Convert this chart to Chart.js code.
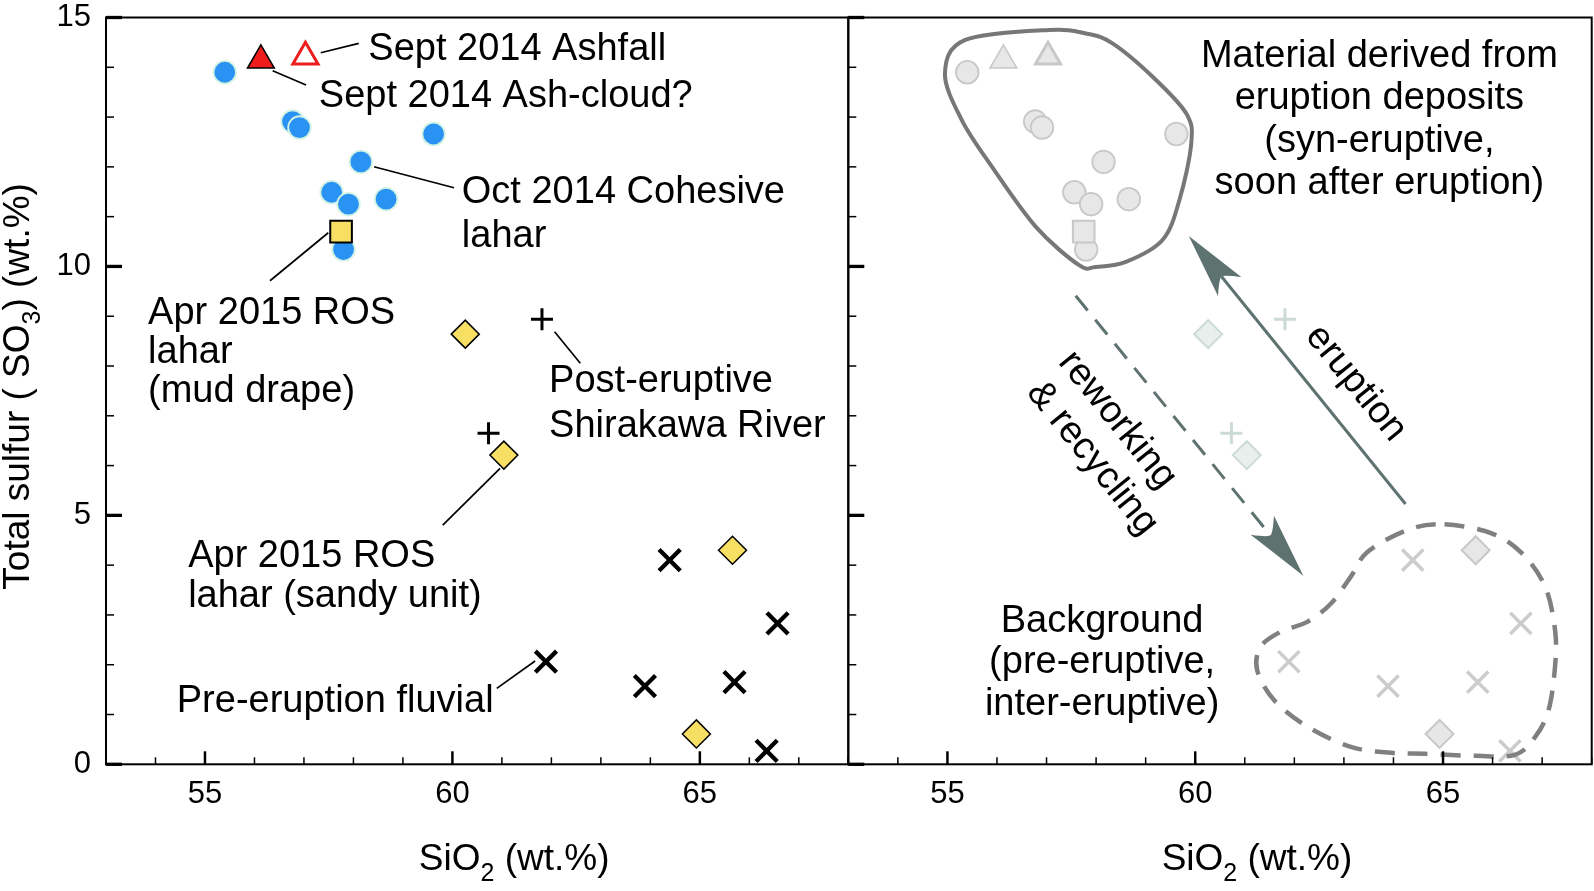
<!DOCTYPE html>
<html>
<head>
<meta charset="utf-8">
<script src="https://cdn.jsdelivr.net/npm/chart.js@4.4.1/dist/chart.umd.min.js"></script>
<style>
  html, body { margin: 0; padding: 0; background: #fff; }
  body { width: 1594px; height: 891px; position: relative; overflow: hidden; }
  canvas { position: absolute; top: 0; }
  #left { left: 0; }
  #right { left: 838px; }
</style>
</head>
<body>
<canvas id="left" width="850" height="891"></canvas>
<canvas id="right" width="756" height="891"></canvas>
<script>
// SiO2 (x) and total sulfur SO3 (y), wt.%
const cohesiveX = [55.40, 56.77, 56.91, 59.62, 58.15, 57.56, 57.90, 58.66, 57.80];
const cohesiveY = [13.90, 12.91, 12.79, 12.66, 12.10, 11.49, 11.25, 11.35, 10.34];
const ashCloudX = [56.13];
const ashCloudY = [14.14];
const ashfallX = [57.03];
const ashfallY = [14.21];
const mudDrapeX = [57.75];
const mudDrapeY = [10.70];
const sandyX = [60.26, 61.04, 65.66, 64.93];
const sandyY = [8.64, 6.21, 4.30, 0.61];
const postX = [61.81, 60.73];
const postY = [8.94, 6.65];
const fluvialX = [64.39, 66.57, 61.89, 63.89, 65.70, 66.35];
const fluvialY = [4.10, 2.83, 2.06, 1.57, 1.65, 0.27];

const xTickLabels = [55, 60, 65];
const yTickLabels = [0, 5, 10, 15];

// outlines drawn in the right panel (data units)
const eruptiveOutline = [
  [57.05, 14.75], [57.79, 14.68], [58.33, 14.48], [59.14, 13.81], [59.82, 13.07], [59.92, 12.47],
  [59.68, 11.33], [59.34, 10.53], [58.60, 10.09], [57.99, 9.99], [57.65, 10.03], [56.78, 10.80],
  [55.90, 12.00], [55.29, 12.94], [54.95, 13.88], [55.36, 14.55]
];
const backgroundOutline = [
  [65.03, 4.82], [65.98, 4.64], [66.59, 4.24], [67.06, 3.57], [67.26, 2.70], [67.26, 1.96],
  [67.13, 1.09], [66.86, 0.55], [66.45, 0.19], [65.64, 0.17], [64.63, 0.21], [63.95, 0.23],
  [63.14, 0.35], [62.26, 0.76], [61.59, 1.29], [61.25, 1.89], [61.32, 2.36], [61.72, 2.66],
  [62.26, 2.86], [62.74, 3.23], [63.14, 3.77], [63.48, 4.27], [64.29, 4.71]
];

const FONT = '"Liberation Sans", Arial, Helvetica, sans-serif';
Chart.defaults.font.family = FONT;
Chart.defaults.color = '#000';

const pts = (xs, ys) => xs.map((x, i) => ({x: x, y: ys[i]}));

function makeDatasets(gray) {
  const yellow = '#F7DF63', blue = '#2A92F2', red = '#EE1C1C';
  const lg = '#E7E7E7', lgLine = '#C8C8C8';
  const sage = '#E8EFED', sageLine = '#CCDAD6';
  const common = {showLine: false, clip: false};
  return [
    Object.assign({label: 'Apr 2015 ROS lahar (mud drape)', data: pts(mudDrapeX, mudDrapeY),
      pointStyle: 'rect', pointRadius: 15.3,
      pointBackgroundColor: gray ? lg : yellow, pointBorderColor: gray ? lgLine : '#000',
      pointBorderWidth: 2}, common),
    Object.assign({label: 'Apr 2015 ROS lahar (sandy unit)', data: pts(sandyX, sandyY),
      pointStyle: 'rectRot', pointRadius: 14,
      pointBackgroundColor: gray ? (c => c.dataIndex < 2 ? sage : lg) : yellow,
      pointBorderColor: gray ? (c => c.dataIndex < 2 ? sageLine : lgLine) : '#000',
      pointBorderWidth: gray ? 2 : 1.5}, common),
    Object.assign({label: 'Post-eruptive Shirakawa River', data: pts(postX, postY),
      pointStyle: 'cross', pointRadius: 11,
      pointBorderColor: gray ? sageLine : '#000', pointBorderWidth: 3}, common),
    Object.assign({label: 'Pre-eruption fluvial', data: pts(fluvialX, fluvialY),
      pointStyle: 'crossRot', pointRadius: 15,
      pointBorderColor: gray ? '#CCCCCC' : '#000', pointBorderWidth: gray ? 3.5 : 4.3}, common),
    Object.assign({label: 'Sept 2014 Ash-cloud?', data: pts(ashCloudX, ashCloudY),
      pointStyle: 'triangle', pointRadius: 15.5,
      pointBackgroundColor: gray ? lg : red, pointBorderColor: gray ? lgLine : '#000',
      pointBorderWidth: 1.5}, common),
    Object.assign({label: 'Sept 2014 Ashfall', data: pts(ashfallX, ashfallY),
      pointStyle: 'triangle', pointRadius: 14.5,
      pointBackgroundColor: gray ? lg : '#fff', pointBorderColor: gray ? lgLine : red,
      pointBorderWidth: 3}, common),
    Object.assign({label: 'Oct 2014 Cohesive lahar', data: pts(cohesiveX, cohesiveY),
      pointStyle: 'circle', pointRadius: 11.3,
      pointBackgroundColor: gray ? lg : blue, pointBorderColor: gray ? lgLine : '#D2F3E4',
      pointBorderWidth: 1.8}, common)
  ];
}

// notes: left-aligned unless align given; x/y in data units (baseline)
const leftNotes = [
  {text: 'Sept 2014 Ashfall', x: 58.30, y: 14.145},
  {text: 'Sept 2014 Ash-cloud?', x: 57.30, y: 13.195},
  {text: 'Oct 2014 Cohesive', x: 60.19, y: 11.27},
  {text: 'lahar', x: 60.19, y: 10.395},
  {text: 'Apr 2015 ROS', x: 53.85, y: 8.853},
  {text: 'lahar', x: 53.85, y: 8.060},
  {text: '(mud drape)', x: 53.85, y: 7.27},
  {text: 'Post-eruptive', x: 61.954, y: 7.478},
  {text: 'Shirakawa River', x: 61.954, y: 6.574},
  {text: 'Apr 2015 ROS', x: 54.66, y: 3.969},
  {text: 'lahar (sandy unit)', x: 54.66, y: 3.159},
  {text: 'Pre-eruption fluvial', x: 54.43, y: 1.056}
];
const leftLeaders = [
  [57.339, 14.292, 58.107, 14.481],
  [56.368, 13.931, 57.042, 13.643],
  [58.416, 12.002, 60.033, 11.581],
  [56.314, 9.713, 57.492, 10.677],
  [62.065, 8.688, 62.584, 8.054],
  [60.963, 5.945, 59.805, 4.806],
  [61.671, 2.075, 60.897, 1.526]
];
const rightNotes = [
  {text: 'Material derived from', x: 63.716, y: 14.011, align: 'center'},
  {text: 'eruption deposits', x: 63.716, y: 13.161, align: 'center'},
  {text: '(syn-eruptive,', x: 63.716, y: 12.308, align: 'center'},
  {text: 'soon after eruption)', x: 63.716, y: 11.454, align: 'center'},
  {text: 'Background', x: 58.121, y: 2.663, align: 'center'},
  {text: '(pre-eruptive,', x: 58.121, y: 1.828, align: 'center'},
  {text: 'inter-eruptive)', x: 58.121, y: 0.990, align: 'center'},
  {text: 'eruption', x: 63.243, y: 7.652, align: 'center', rot: 51},
  {text: 'reworking', x: 58.431, y: 6.915, align: 'center', rot: 51},
  {text: '& recycling', x: 57.924, y: 6.146, align: 'center', rot: 51}
];
const rightArrows = [
  {from: [64.243, 5.229], to: [59.870, 10.611], dashed: false},
  {from: [57.588, 9.412], to: [62.181, 3.788], dashed: true}
];

function closedSpline(ctx, p) {
  const n = p.length;
  ctx.moveTo(p[0][0], p[0][1]);
  for (let i = 0; i < n; i++) {
    const p0 = p[(i - 1 + n) % n], p1 = p[i], p2 = p[(i + 1) % n], p3 = p[(i + 2) % n];
    ctx.bezierCurveTo(p1[0] + (p2[0] - p0[0]) / 6, p1[1] + (p2[1] - p0[1]) / 6,
                      p2[0] - (p3[0] - p1[0]) / 6, p2[1] - (p3[1] - p1[1]) / 6, p2[0], p2[1]);
  }
  ctx.closePath();
}

function drawArrow(ctx, x0, y0, x1, y1, dashed) {
  const len = Math.hypot(x1 - x0, y1 - y0);
  const ux = (x1 - x0) / len, uy = (y1 - y0) / len;
  const nx = -uy, ny = ux;
  const headLen = 65, notch = 52, half = 15;
  ctx.save();
  ctx.strokeStyle = '#5E7270';
  ctx.fillStyle = '#5E7270';
  ctx.lineWidth = 3;
  ctx.setLineDash(dashed ? [19, 12] : []);
  ctx.beginPath();
  ctx.moveTo(x0, y0);
  ctx.lineTo(x1 - ux * notch, y1 - uy * notch);
  ctx.stroke();
  ctx.setLineDash([]);
  const bx = x1 - ux * headLen, by = y1 - uy * headLen;
  const mx = x1 - ux * notch, my = y1 - uy * notch;
  ctx.beginPath();
  ctx.moveTo(x1, y1);
  ctx.lineTo(bx + nx * half, by + ny * half);
  ctx.quadraticCurveTo(mx + nx * 3, my + ny * 3, mx, my);
  ctx.quadraticCurveTo(mx - nx * 3, my - ny * 3, bx - nx * half, by - ny * half);
  ctx.closePath();
  ctx.fill();
  ctx.restore();
}

function drawTitle(ctx, segs, cx, cy, rot) {
  ctx.save();
  ctx.translate(cx, cy);
  if (rot) ctx.rotate(rot);
  let total = 0;
  segs.forEach(s => { ctx.font = s.size + 'px ' + FONT; total += ctx.measureText(s.t).width; });
  let x = -total / 2;
  ctx.textBaseline = 'alphabetic';
  ctx.textAlign = 'left';
  ctx.fillStyle = '#000';
  segs.forEach(s => {
    ctx.font = s.size + 'px ' + FONT;
    ctx.fillText(s.t, x, s.dy || 0);
    x += ctx.measureText(s.t).width;
  });
  ctx.restore();
}

const decor = {
  id: 'decor',
  afterDatasetsDraw(chart) {
    const ctx = chart.ctx, sx = chart.scales.x, sy = chart.scales.y;
    const px = v => sx.getPixelForValue(v), py = v => sy.getPixelForValue(v);
    const panel = chart.options.plugins.decor.panel;
    ctx.save();
    if (panel === 'left') {
      ctx.strokeStyle = '#000';
      ctx.lineWidth = 1.7;
      leftLeaders.forEach(l => {
        ctx.beginPath();
        ctx.moveTo(px(l[0]), py(l[1]));
        ctx.lineTo(px(l[2]), py(l[3]));
        ctx.stroke();
      });
    } else {
      ctx.strokeStyle = '#777';
      ctx.lineWidth = 4;
      ctx.beginPath();
      closedSpline(ctx, eruptiveOutline.map(p => [px(p[0]), py(p[1])]));
      ctx.stroke();
      ctx.strokeStyle = '#808080';
      ctx.lineWidth = 4.5;
      ctx.setLineDash([20, 13]);
      ctx.beginPath();
      closedSpline(ctx, backgroundOutline.map(p => [px(p[0]), py(p[1])]));
      ctx.stroke();
      ctx.setLineDash([]);
      rightArrows.forEach(a => drawArrow(ctx, px(a.from[0]), py(a.from[1]), px(a.to[0]), py(a.to[1]), a.dashed));
    }
    ctx.restore();
  },
  afterDraw(chart) {
    const ctx = chart.ctx, a = chart.chartArea, sx = chart.scales.x, sy = chart.scales.y;
    const px = v => sx.getPixelForValue(v), py = v => sy.getPixelForValue(v);
    const panel = chart.options.plugins.decor.panel;
    ctx.save();
    // frame
    ctx.strokeStyle = '#000';
    ctx.lineWidth = 2;
    ctx.strokeRect(a.left, a.top, a.right - a.left, a.bottom - a.top);
    // inward ticks
    sx.ticks.forEach(t => {
      const major = t.value % 5 === 0;
      const x = px(t.value);
      ctx.lineWidth = major ? 2.5 : 1.5;
      ctx.beginPath();
      ctx.moveTo(x, a.bottom);
      ctx.lineTo(x, a.bottom - (major ? 13 : 7));
      ctx.stroke();
    });
    sy.ticks.forEach(t => {
      const major = t.value % 5 === 0;
      const y = py(t.value);
      ctx.lineWidth = major ? 3.3 : 1.5;
      ctx.beginPath();
      ctx.moveTo(a.left, y);
      ctx.lineTo(a.left + (major ? 16 : 8), y);
      ctx.stroke();
    });
    // axis titles
    const cx = (a.left + a.right) / 2 + 37;
    drawTitle(ctx, [{t: 'SiO', size: 37}, {t: '2', size: 25, dy: 11}, {t: ' (wt.%)', size: 37}],
      cx, a.bottom + 106, 0);
    if (panel === 'left') {
      drawTitle(ctx, [{t: 'Total sulfur ( SO', size: 37}, {t: '3', size: 25, dy: 11}, {t: ') (wt.%)', size: 37}],
        29, (a.top + a.bottom) / 2 - 4.5, -Math.PI / 2);
    }
    // notes
    const notes = panel === 'left' ? leftNotes : rightNotes;
    ctx.fillStyle = '#000';
    ctx.font = '38px ' + FONT;
    notes.forEach(n => {
      ctx.save();
      ctx.translate(px(n.x), py(n.y));
      if (n.rot) {
        ctx.rotate(n.rot * Math.PI / 180);
        ctx.textBaseline = 'middle';
      } else {
        ctx.textBaseline = 'alphabetic';
      }
      ctx.textAlign = n.align || 'left';
      ctx.fillText(n.text, 0, 0);
      ctx.restore();
    });
    ctx.restore();
  }
};

function noPad(s) {
  s.paddingTop = 0;
  s.paddingBottom = 0;
  s.paddingLeft = 0;
  s.paddingRight = 0;
}

function makeChart(id, panel) {
  const isLeft = panel === 'left';
  return new Chart(document.getElementById(id), {
    type: 'scatter',
    data: {datasets: makeDatasets(!isLeft)},
    options: {
      responsive: false,
      maintainAspectRatio: false,
      devicePixelRatio: 1,
      animation: false,
      events: [],
      layout: {
        autoPadding: false,
        padding: {top: 17.5, right: isLeft ? 1.7 : 2.3, left: 0, bottom: 0}
      },
      plugins: {legend: {display: false}, tooltip: {enabled: false}, decor: {panel: panel}},
      scales: {
        x: {
          type: 'linear', min: 53, max: 68,
          grid: {display: false, drawTicks: false},
          border: {display: false},
          ticks: {
            stepSize: 1, autoSkip: false, maxRotation: 0, padding: 12,
            color: '#000', font: {size: 31},
            callback: v => xTickLabels.includes(v) ? String(v) : ''
          },
          afterFit: s => { s.height = 126.7; noPad(s); }
        },
        y: {
          type: 'linear', min: 0, max: 15,
          grid: {display: false, drawTicks: false},
          border: {display: false},
          ticks: {
            display: isLeft, stepSize: 1, autoSkip: false, padding: 15,
            color: '#000', font: {size: 31},
            callback: v => yTickLabels.includes(v) ? String(v) : ''
          },
          afterFit: s => { s.width = isLeft ? 106 : 10.3; noPad(s); }
        }
      }
    },
    plugins: [decor]
  });
}

makeChart('left', 'left');
makeChart('right', 'right');
</script>
</body>
</html>
